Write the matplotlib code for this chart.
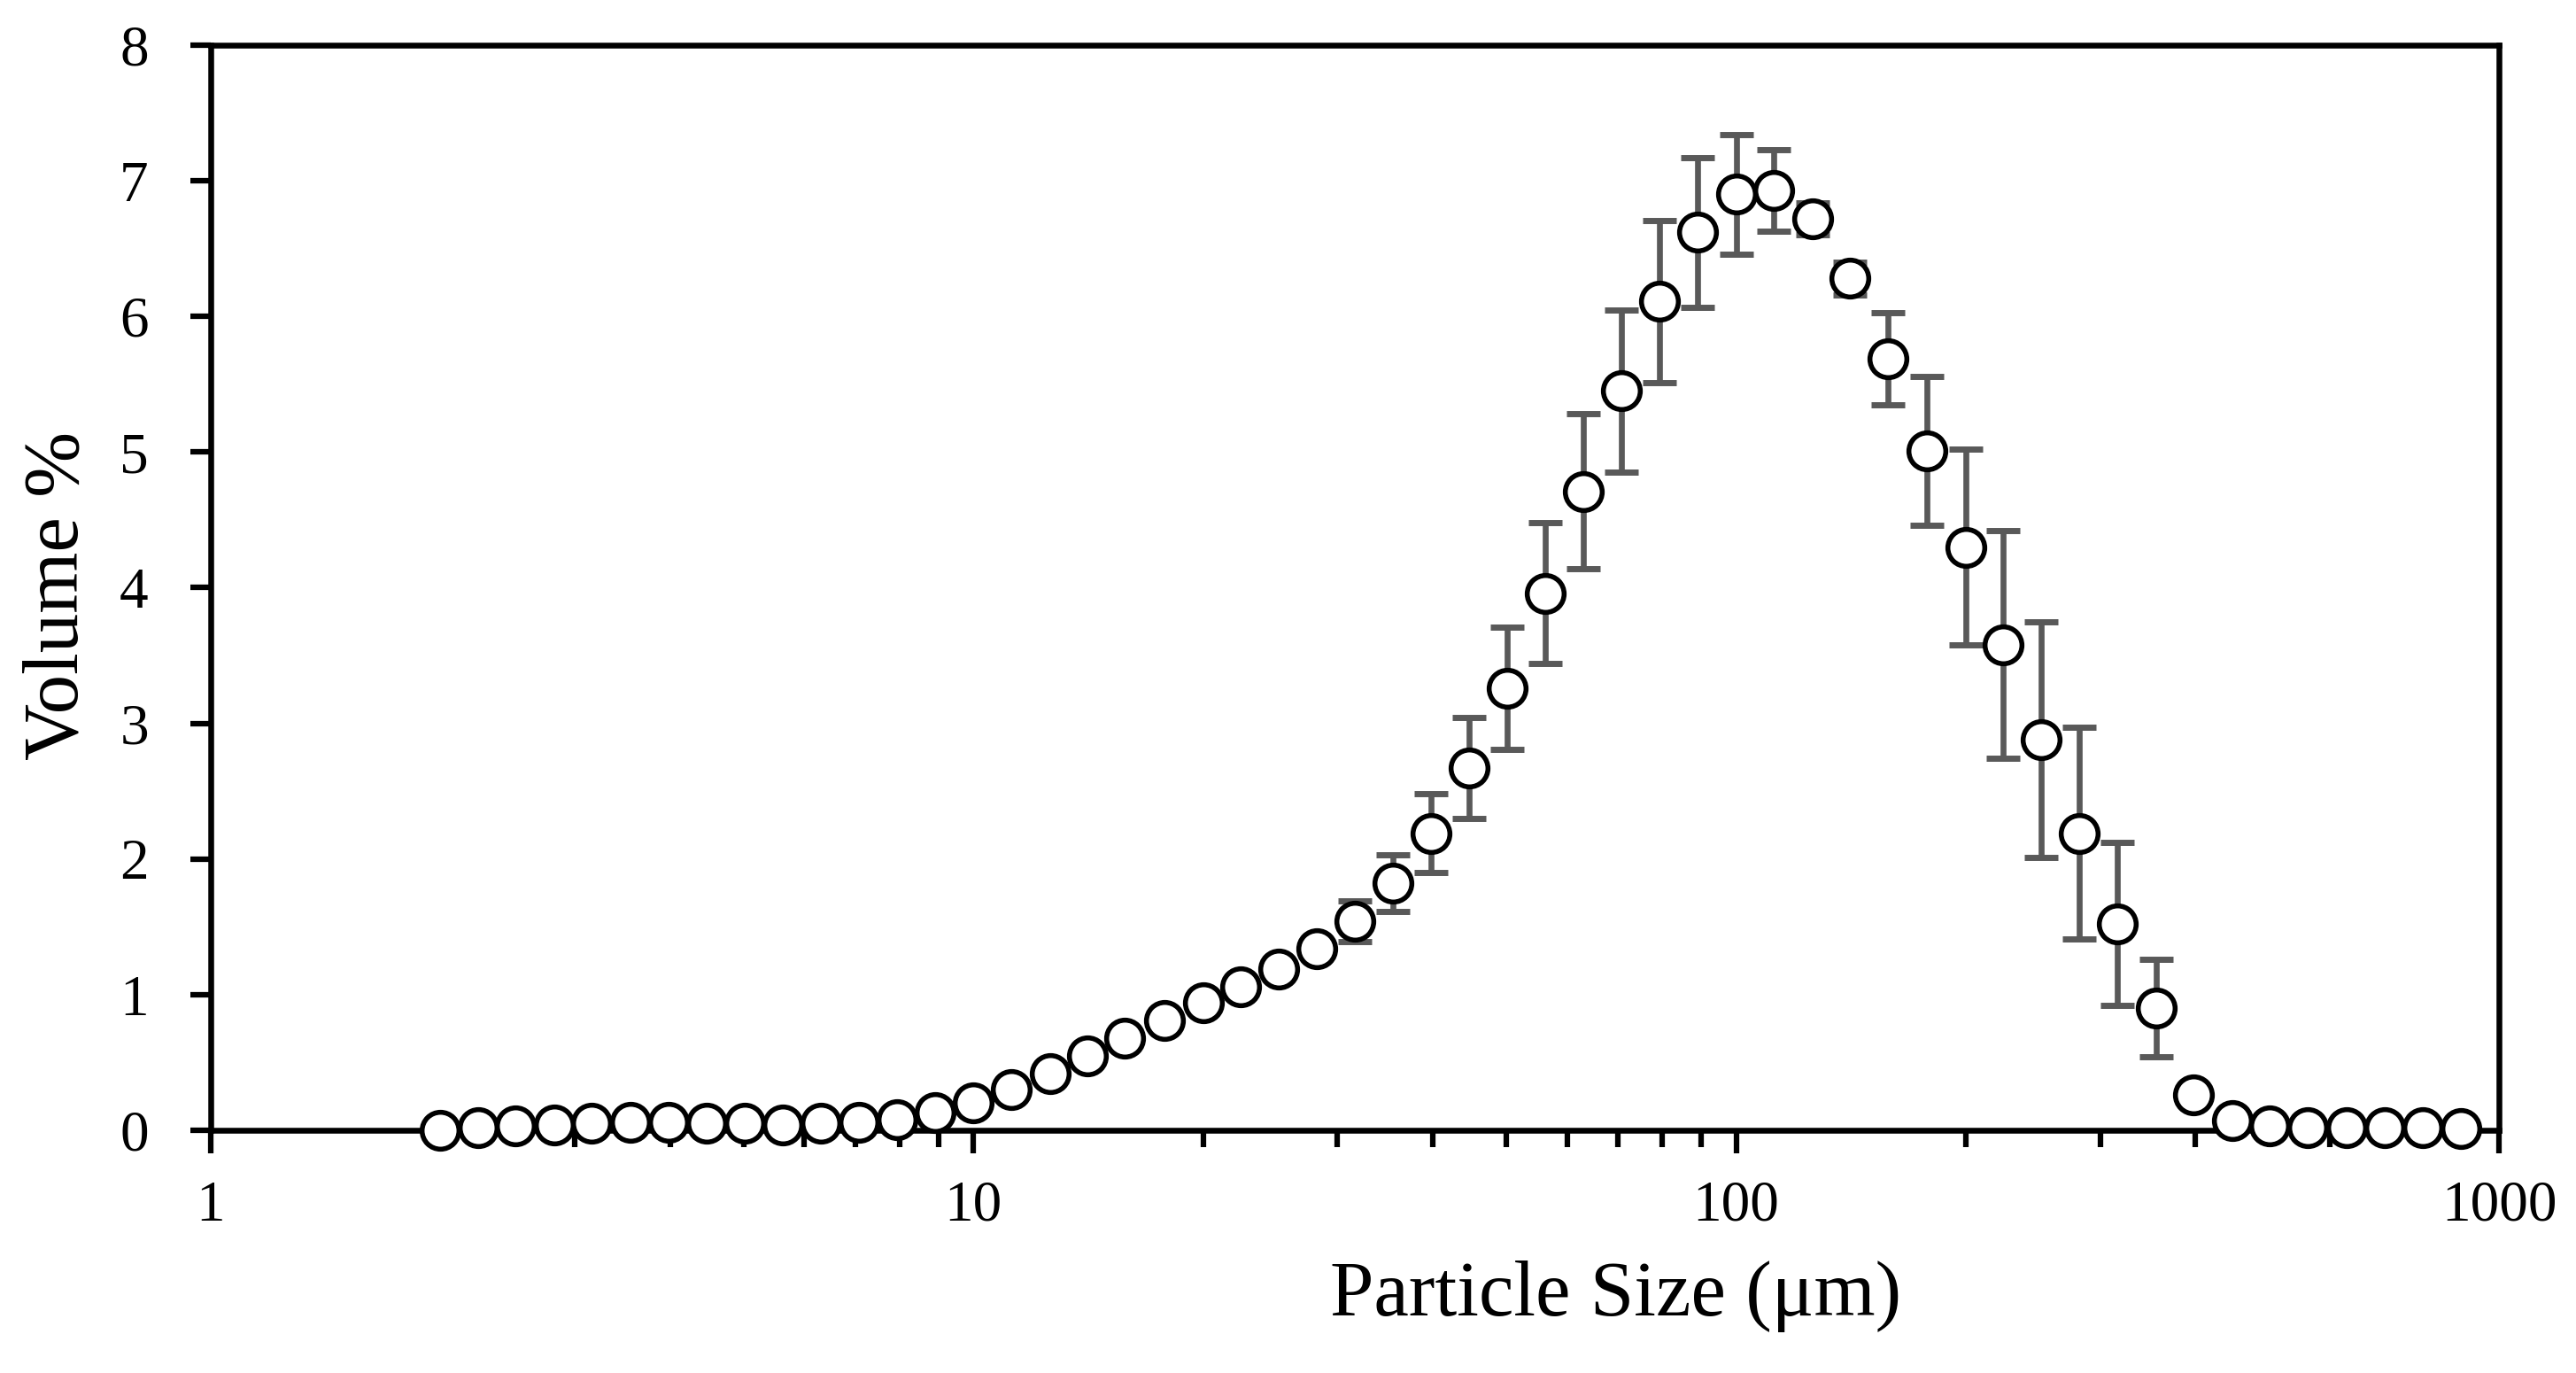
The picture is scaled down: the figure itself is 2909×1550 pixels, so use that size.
import matplotlib
matplotlib.use("Agg")
import matplotlib.pyplot as plt
import numpy as np

# particle size classes (um), log spaced
size_um = [2.00, 2.24, 2.51, 2.82, 3.16, 3.55, 3.98, 4.47, 5.01, 5.62,
           6.31, 7.08, 7.94, 8.91, 10.0, 11.2, 12.6, 14.1, 15.8, 17.8,
           20.0, 22.4, 25.1, 28.2, 31.6, 35.5, 39.8, 44.7, 50.1, 56.2,
           63.1, 70.8, 79.4, 89.1, 100, 112, 126, 141, 158, 178,
           200, 224, 251, 282, 316, 355, 398, 447, 501, 562,
           631, 708, 794, 891]

# mean volume %
volume = [0.00, 0.02, 0.03, 0.04, 0.05, 0.06, 0.06, 0.05, 0.05, 0.04,
          0.05, 0.06, 0.08, 0.13, 0.20, 0.30, 0.42, 0.55, 0.68, 0.81,
          0.94, 1.06, 1.19, 1.34, 1.54, 1.82, 2.19, 2.67, 3.26, 3.96,
          4.71, 5.45, 6.11, 6.62, 6.90, 6.93, 6.72, 6.28, 5.69, 5.01,
          4.30, 3.58, 2.88, 2.19, 1.52, 0.90, 0.26, 0.07, 0.03, 0.02,
          0.02, 0.02, 0.02, 0.01]

# standard deviation
volume_sd = [0.00, 0.00, 0.00, 0.00, 0.00, 0.00, 0.00, 0.00, 0.00, 0.00,
             0.00, 0.00, 0.00, 0.00, 0.00, 0.00, 0.00, 0.00, 0.00, 0.00,
             0.00, 0.00, 0.02, 0.06, 0.15, 0.21, 0.29, 0.37, 0.45, 0.52,
             0.57, 0.60, 0.60, 0.55, 0.44, 0.30, 0.12, 0.12, 0.34, 0.55,
             0.72, 0.84, 0.87, 0.78, 0.60, 0.36, 0.03, 0.00, 0.00, 0.00,
             0.00, 0.00, 0.00, 0.00]

x_ticks = [1, 10, 100, 1000]
x_tick_labels = ["1", "10", "100", "1000"]
y_ticks = [0, 1, 2, 3, 4, 5, 6, 7, 8]

plt.rcParams['font.family'] = ['Liberation Serif', 'DejaVu Serif']

fig = plt.figure(figsize=(29.09, 15.5), dpi=100)
ax = fig.add_axes([0.0818, 0.1768, 0.8883, 0.7903])

# error bars sit behind the open circles
ax.errorbar(size_um, volume, yerr=volume_sd, fmt='none', ecolor='#595959',
            elinewidth=4.8, capsize=14, capthick=5, zorder=2)
ax.plot(size_um, volume, linestyle='none', marker='o', markersize=30,
        markerfacecolor='white', markeredgecolor='black',
        markeredgewidth=4, zorder=3, clip_on=False)

ax.set_xscale('log')
ax.set_xlim(1, 1000)
ax.set_ylim(0, 8)
ax.set_xticks(x_ticks)
ax.set_xticklabels(x_tick_labels)
ax.set_yticks(y_ticks)

for side in ['left', 'right', 'top', 'bottom']:
    ax.spines[side].set_linewidth(4.7)
    ax.spines[side].set_color('black')

ax.tick_params(axis='y', which='major', direction='out', length=16.5,
               width=4.5, labelsize=47, pad=34)
ax.tick_params(axis='x', which='major', direction='out', length=18.5,
               width=4.5, labelsize=47, pad=22)
ax.tick_params(axis='x', which='minor', direction='out', length=13.5,
               width=4.5)

ax.set_xlabel("Particle Size (μm)", fontsize=64)
ax.xaxis.set_label_coords(0.614, -0.12)
ax.set_ylabel("Volume %", fontsize=64)
ax.yaxis.set_label_coords(-0.0507, 0.493)

fig.savefig("out.png", dpi=100)
